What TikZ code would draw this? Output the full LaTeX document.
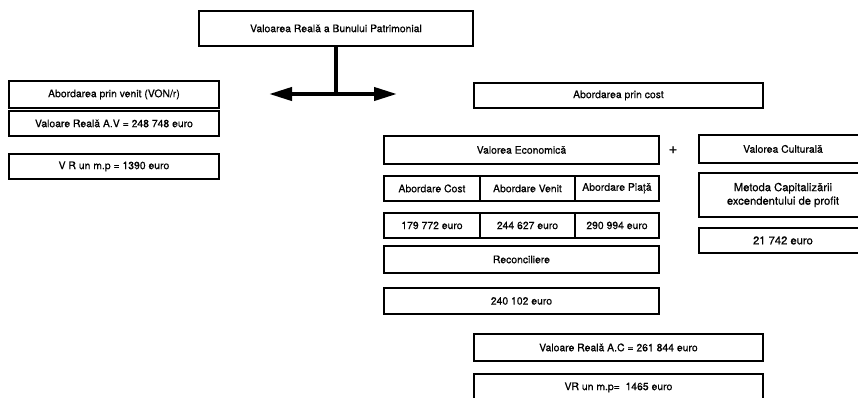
\documentclass[tikz,border=0pt]{standalone}
\usepackage{fontspec}
\setmainfont{TeX Gyre Heros}[RawFeature={embolden=0.6}]
\usetikzlibrary{arrows.meta}
\begin{document}
\begin{tikzpicture}[x=1pt,y=-1pt,
  box/.style={draw=black,line width=1.9pt,rectangle,inner sep=0pt,anchor=north west,align=center,font=\fontsize{10.4}{12.5}\selectfont},
  bigbox/.style={box,font=\fontsize{11.2}{13.5}\selectfont},
  link/.style={line width=4pt,-{Triangle[length=23pt,width=13pt]}},
  stem/.style={line width=4pt}]
\clip (0,0) rectangle (858,397);
\fill[white] (0,0) rectangle (858,397);
% top
\node[box,minimum width=274pt,minimum height=35pt] (top) at (198,10) {Valoarea Reală a Bunului Patrimonial};
% left
\node[box,minimum width=210pt,minimum height=27pt] (av1) at (8,80) {Abordarea prin venit (VON/r)};
\node[box,minimum width=210pt,minimum height=25pt] (av2) at (8,110) {Valoare Reală A.V = 248 748 euro};
\node[box,minimum width=210pt,minimum height=25pt] (av3) at (8,153) {V R un m.p = 1390 euro};
% right
\node[box,minimum width=289pt,minimum height=25pt] (ac) at (473,82) {Abordarea prin cost};
\node[box,minimum width=275pt,minimum height=28pt] (ve) at (383,135) {Valorea Economică};
\node[font=\fontsize{15}{15}\selectfont] (plus) at (673,150) {+};
\node[box,minimum width=168pt,minimum height=28pt] (vc) at (698,134) {Valorea Culturală};
\node[box,minimum width=96pt,minimum height=25pt] (c1) at (383,175) {Abordare Cost};
\node[box,minimum width=95pt,minimum height=25pt] (c2) at (479,175) {Abordare Venit};
\node[box,minimum width=84pt,minimum height=25pt] (c3) at (574,175) {Abordare Piață};
\node[box,minimum width=96pt,minimum height=25pt] (v1) at (383,212) {179 772 euro};
\node[box,minimum width=95pt,minimum height=25pt] (v2) at (479,212) {244 627 euro};
\node[box,minimum width=84pt,minimum height=25pt] (v3) at (574,212) {290 994 euro};
\node[bigbox,minimum width=168pt,minimum height=44pt] (mc) at (698,172) {Metoda Capitalizării\\excendentului de profit};
\node[bigbox,minimum width=168pt,minimum height=25pt] (cv) at (698,227) {21 742 euro};
\node[box,minimum width=275pt,minimum height=27pt] (rec) at (383,245) {Reconciliere};
\node[box,minimum width=275pt,minimum height=26pt] (re) at (383,287) {240 102 euro};
\node[box,minimum width=289pt,minimum height=27pt] (rac) at (473,333) {Valoare Reală A.C = 261 844 euro};
\node[box,minimum width=289pt,minimum height=27pt] (vr) at (473,373) {VR un m.p=\ \ 1465 euro};
% connectors
\coordinate (j) at (top.south |- 0,94);
\coordinate (lt) at (269,94);
\coordinate (rt) at (397,94);
\draw[stem] (top.south) -- (j);
\draw[link] (j) -- (lt);
\draw[link] (j) -- (rt);
\end{tikzpicture}
\end{document}
